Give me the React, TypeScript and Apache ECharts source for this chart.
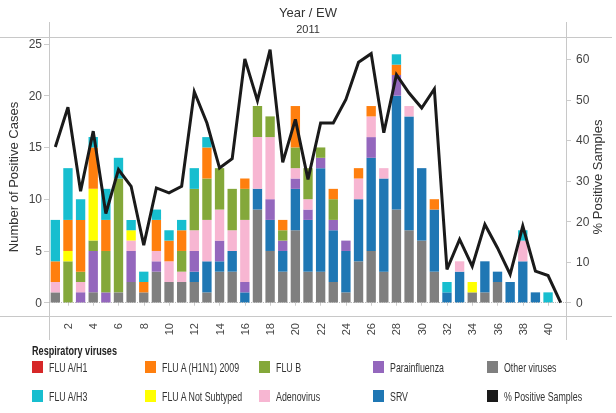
import React, { useEffect, useRef } from "react";
import * as echarts from "echarts";

const weeks = Array.from({ length: 41 }, (_, i) => String(i + 1));

const otherViruses = [1,0,0,1,0,1,2,1,3,2,2,2,1,3,3,0,9,5,3,7,3,3,2,1,4,5,3,9,7,6,3,0,0,1,1,2,0,0,0,0,0];
const srv = [0,0,0,0,0,0,0,0,0,0,0,1,3,1,2,1,2,3,2,4,5,10,5,4,6,9,9,11,11,7,6,1,3,0,3,1,2,4,1,0,0];
const parainfluenza = [0,0,1,4,1,0,3,0,1,0,0,2,0,2,0,1,0,2,1,1,1,1,1,1,0,2,0,2,0,0,0,0,0,0,0,0,0,0,0,0,0];
const adenovirus = [1,0,1,0,0,0,1,0,1,2,1,2,4,3,2,6,5,6,0,1,1,0,0,0,2,2,1,0,1,0,0,0,1,0,0,0,0,2,0,0,0];
const fluB = [0,4,1,1,4,11,0,0,0,0,2,4,4,4,4,3,3,2,1,2,3,1,2,0,0,0,0,0,0,0,0,0,0,0,0,0,0,0,0,0,0];
const fluANotSubtyped = [0,1,0,5,0,0,1,0,0,0,0,0,0,0,0,0,0,0,0,0,0,0,0,0,0,0,0,0,0,0,0,0,0,1,0,0,0,0,0,0,0];
const fluAH1N1 = [2,3,5,4,3,0,0,1,3,2,2,0,3,0,0,1,0,0,1,4,0,0,1,0,1,1,0,1,0,0,1,0,0,0,0,0,0,0,0,0,0];
const fluAH1 = [0,0,0,0,0,0,0,0,0,0,0,0,0,0,0,0,0,0,0,0,0,0,0,0,0,0,0,0,0,0,0,0,0,0,0,0,0,0,0,0,0];
const fluAH3 = [4,5,2,1,3,2,1,1,1,1,1,2,1,0,0,0,0,0,0,0,0,0,0,0,0,0,0,1,0,0,0,1,0,0,0,0,0,1,0,1,0];
const pctPositive = [38.4,48.2,27.5,42.3,22.0,32.8,28.7,14.2,28.3,27.1,28.7,52.0,44.3,33.2,35.5,60.1,49.8,62.4,34.6,45.2,30.4,44.3,44.3,50.1,59.3,61.4,41.9,56.2,51.7,48.0,52.7,8.2,15.6,9.0,19.3,13.5,7.0,18.9,7.8,6.7,0];

const leftTicks = [0, 5, 10, 15, 20, 25];
const rightTicks = [0, 10, 20, 30, 40, 50, 60];

const legendColumns = [
  ["FLU A/H1", "FLU A/H3"],
  ["FLU A (H1N1) 2009", "FLU A Not Subtyped"],
  ["FLU B", "Adenovirus"],
  ["Parainfluenza", "SRV"],
  ["Other viruses", "% Positive Samples"],
];

const FONT = "'Liberation Sans', Arial, sans-serif";

export default function App() {
  const ref = useRef<HTMLDivElement>(null);
  useEffect(() => {
    const chart = echarts.init(ref.current!, null, { renderer: "svg" });
    const barDefs = [
      { name: "Other viruses", data: otherViruses, color: "#7f7f7f" },
      { name: "SRV", data: srv, color: "#1f77b4" },
      { name: "Parainfluenza", data: parainfluenza, color: "#9467bd" },
      { name: "Adenovirus", data: adenovirus, color: "#f7b6d2" },
      { name: "FLU B", data: fluB, color: "#84a83a" },
      { name: "FLU A Not Subtyped", data: fluANotSubtyped, color: "#ffff00" },
      { name: "FLU A (H1N1) 2009", data: fluAH1N1, color: "#ff7f0e" },
      { name: "FLU A/H1", data: fluAH1, color: "#d62728" },
      { name: "FLU A/H3", data: fluAH3, color: "#17becf" },
    ];
    const colorOf: Record<string, string> = { "% Positive Samples": "#1a1a1a" };
    barDefs.forEach((d) => (colorOf[d.name] = d.color));

    const series: any[] = barDefs.map((d, i) => ({
      name: d.name,
      type: "bar",
      stack: "cases",
      data: d.data,
      barWidth: "74%",
      itemStyle: { color: d.color },
      ...(i === 0
        ? {
            markLine: {
              silent: true,
              symbol: ["none", "none"],
              label: { show: false },
              lineStyle: { type: "dotted", color: "#bbbbbb", width: 1 },
              data: [{ yAxis: 0 }],
            },
          }
        : {}),
    }));
    series.push({
      name: "% Positive Samples",
      type: "line",
      yAxisIndex: 1,
      data: pctPositive,
      symbol: "none",
      z: 10,
      itemStyle: { color: "#1a1a1a" },
      lineStyle: { color: "#1a1a1a", width: 3, join: "miter" },
    });

    const colLeft = [32, 145, 259, 373, 487];
    const rowY = [367, 396];
    const legendGraphics: any[] = [];
    legendColumns.forEach((col, ci) => {
      col.forEach((name, ri) => {
        legendGraphics.push({
          type: "rect",
          silent: true,
          shape: { x: colLeft[ci], y: rowY[ri] - 6, width: 11, height: 12 },
          style: { fill: colorOf[name] },
        });
        legendGraphics.push({
          type: "text",
          silent: true,
          x: colLeft[ci] + 17,
          y: rowY[ri],
          scaleX: 0.68,
          style: { text: name, fontSize: 13, fill: "#333", fontFamily: FONT, textAlign: "left", textVerticalAlign: "middle" },
        });
      });
    });

    const lineColor = "#c8c8c8";
    chart.setOption({
      animation: false,
      textStyle: { fontFamily: FONT },
      grid: { left: 49, right: 49, top: 37, bottom: 96, containLabel: false, outerBoundsMode: "none" },
      xAxis: {
        type: "category",
        data: weeks,
        axisLine: { show: false },
        axisTick: {
          show: true,
          alignWithLabel: true,
          length: 3,
          interval: (i: number) => i % 2 === 1,
          lineStyle: { color: "#cccccc" },
        },
        axisLabel: {
          interval: (i: number) => i % 2 === 1,
          rotate: 90,
          margin: 6,
          fontSize: 11,
          color: "#444",
        },
        splitLine: { show: false },
      },
      yAxis: [
        {
          type: "value",
          min: -1.38,
          max: 25.67,
          name: "Number of Positive Cases",
          nameLocation: "middle",
          nameRotate: 90,
          nameGap: 29,
          nameMoveOverlap: false,
          nameTextStyle: { fontSize: 13, color: "#333" },
          axisLine: { show: false },
          axisTick: { show: true, length: 5, customValues: leftTicks, lineStyle: { color: "#cccccc" } },
          axisLabel: { customValues: leftTicks, margin: 7, fontSize: 12, color: "#444" },
          splitLine: { show: false },
        },
        {
          type: "value",
          min: -3.52,
          max: 65.5,
          position: "right",
          name: "% Positive Samples",
          nameLocation: "middle",
          nameRotate: 90,
          nameGap: 24,
          nameMoveOverlap: false,
          nameTextStyle: { fontSize: 13, color: "#333" },
          axisLine: { show: false },
          axisTick: { show: true, length: 4, customValues: rightTicks, lineStyle: { color: "#cccccc" } },
          axisLabel: { customValues: rightTicks, margin: 9, fontSize: 12, color: "#444" },
          splitLine: { show: false },
        },
      ],
      graphic: [
        { type: "line", shape: { x1: 0, y1: 37.5, x2: 612, y2: 37.5 }, style: { stroke: lineColor, lineWidth: 1 }, silent: true },
        { type: "line", shape: { x1: 0, y1: 316.5, x2: 612, y2: 316.5 }, style: { stroke: lineColor, lineWidth: 1 }, silent: true },
        { type: "line", shape: { x1: 49.5, y1: 22, x2: 49.5, y2: 340 }, style: { stroke: lineColor, lineWidth: 1 }, silent: true },
        { type: "line", shape: { x1: 566.5, y1: 22, x2: 566.5, y2: 340 }, style: { stroke: lineColor, lineWidth: 1 }, silent: true },
        { type: "text", x: 308, y: 12, silent: true, style: { text: "Year / EW", fontSize: 13, fill: "#333", fontFamily: FONT, textAlign: "center", textVerticalAlign: "middle" } },
        { type: "text", x: 308, y: 29, silent: true, style: { text: "2011", fontSize: 11, fill: "#333", fontFamily: FONT, textAlign: "center", textVerticalAlign: "middle" } },
        { type: "text", x: 32, y: 350, scaleX: 0.7, silent: true, style: { text: "Respiratory viruses", fontSize: 13, fontWeight: "bold", fill: "#222", fontFamily: FONT, textAlign: "left", textVerticalAlign: "middle" } },
        ...legendGraphics,
      ],
      series,
    });
    return () => chart.dispose();
  }, []);
  return <div ref={ref} style={{ position: "fixed", left: 0, top: 0, width: 616, height: 413 }} />;
}
